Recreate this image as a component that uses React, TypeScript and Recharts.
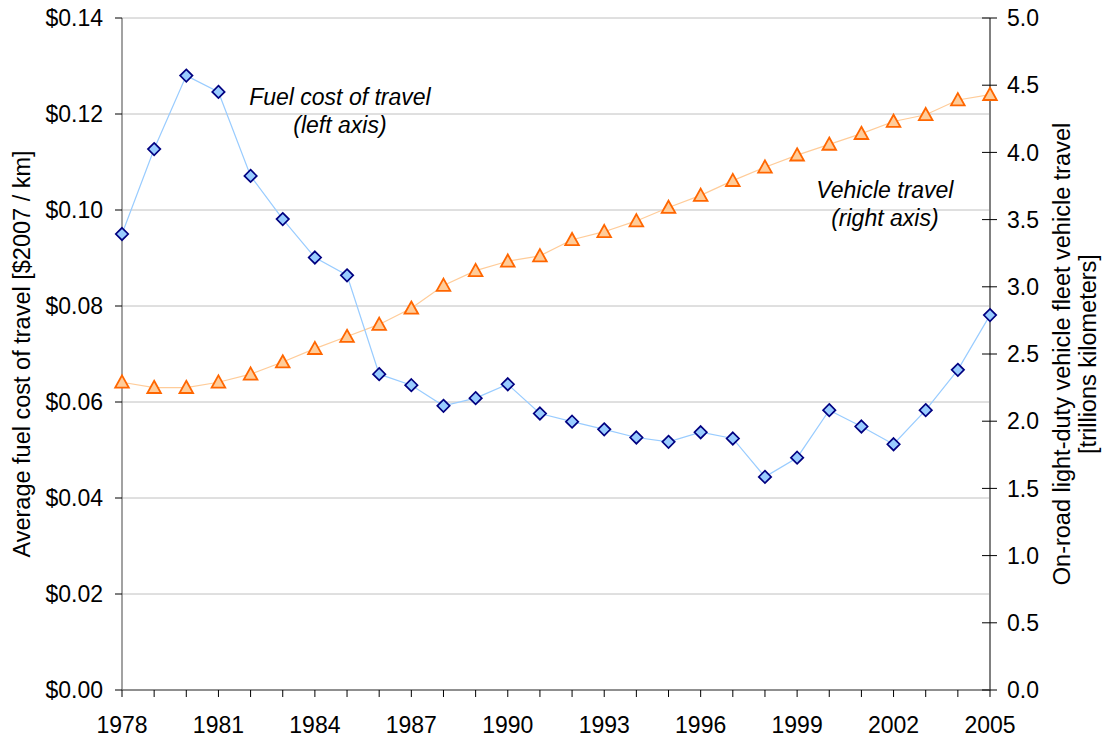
import React from 'react'
import {
  LineChart,
  Line,
  XAxis,
  YAxis,
  CartesianGrid,
  ReferenceDot,
  Label,
} from 'recharts'

const years = [
  1978, 1979, 1980, 1981, 1982, 1983, 1984, 1985, 1986, 1987, 1988, 1989, 1990, 1991,
  1992, 1993, 1994, 1995, 1996, 1997, 1998, 1999, 2000, 2001, 2002, 2003, 2004, 2005,
]
const labeledYears = [1978, 1981, 1984, 1987, 1990, 1993, 1996, 1999, 2002, 2005]

// $2007 per km (left axis)
const fuelCost = [
  0.095, 0.1127, 0.128, 0.1246, 0.1071, 0.0981, 0.0901, 0.0864, 0.0658, 0.0635, 0.0592,
  0.0608, 0.0637, 0.0576, 0.0559, 0.0543, 0.0526, 0.0517, 0.0537, 0.0524, 0.0444, 0.0484,
  0.0583, 0.0549, 0.0512, 0.0583, 0.0667, 0.0781,
]
// trillions km (right axis)
const vehicleTravel = [
  2.29, 2.25, 2.25, 2.29, 2.35, 2.44, 2.54, 2.63, 2.72, 2.84, 3.01, 3.12, 3.19, 3.23,
  3.35, 3.41, 3.49, 3.59, 3.68, 3.79, 3.89, 3.98, 4.06, 4.14, 4.23, 4.28, 4.39, 4.43,
]

const leftTicks = [0, 0.02, 0.04, 0.06, 0.08, 0.1, 0.12, 0.14]
const rightTicks = [0, 0.5, 1, 1.5, 2, 2.5, 3, 3.5, 4, 4.5, 5]

const leftTitle = 'Average fuel cost of travel [$2007 / km]'
const rightTitle = ['On-road light-duty vehicle fleet vehicle travel', '[trillions kilometers]']
const fuelNote = ['Fuel cost of travel', '(left axis)']
const travelNote = ['Vehicle travel', '(right axis)']

const data = years.map((year, i) => ({ year, cost: fuelCost[i], travel: vehicleTravel[i] }))

const FONT = '"Liberation Sans", Arial, Helvetica, sans-serif'
const FS = 23

function Diamond({ cx, cy }: any) {
  if (cx == null || cy == null) return null
  const r = 6.2
  return (
    <path
      d={`M${cx},${cy - r}L${cx + r},${cy}L${cx},${cy + r}L${cx - r},${cy}Z`}
      fill="#99ccff"
      stroke="#000080"
      strokeWidth={1.7}
    />
  )
}

function Triangle({ cx, cy }: any) {
  if (cx == null || cy == null) return null
  return (
    <path
      d={`M${cx},${cy - 6.8}L${cx + 6.8},${cy + 5.4}L${cx - 6.8},${cy + 5.4}Z`}
      fill="#ffcc99"
      stroke="#ff6600"
      strokeWidth={1.8}
      strokeLinejoin="miter"
    />
  )
}

function YearTick({ x, y, payload }: any) {
  if (!labeledYears.includes(payload.value)) return null
  return (
    <text x={x} y={y} dy="0.71em" textAnchor="middle" fontSize={FS} fontFamily={FONT} fill="#000">
      {payload.value}
    </text>
  )
}

function RightTick({ x, y, payload }: any) {
  return (
    <g>
      <line x1={x - 25} x2={x - 10} y1={y} y2={y} stroke="#000" strokeWidth={1} />
      <text x={x} y={y} dy="0.355em" textAnchor="start" fontSize={FS} fontFamily={FONT} fill="#000">
        {payload.value.toFixed(1)}
      </text>
    </g>
  )
}

function LeftTitle({ viewBox }: any) {
  const cx = viewBox.x + 22
  const cy = viewBox.y + viewBox.height / 2
  return (
    <text
      x={cx}
      y={cy}
      transform={`rotate(-90, ${cx}, ${cy})`}
      textAnchor="middle"
      dominantBaseline="central"
      fontSize={FS + 0.5}
      fontFamily={FONT}
      fill="#000"
    >
      {leftTitle}
    </text>
  )
}

function RightTitle({ viewBox }: any) {
  const cy = viewBox.y + viewBox.height / 2
  return (
    <g>
      {rightTitle.map((line, i) => {
        const cx = viewBox.x + 72 + i * 26
        return (
          <text
            key={line}
            x={cx}
            y={cy}
            transform={`rotate(-90, ${cx}, ${cy})`}
            textAnchor="middle"
            dominantBaseline="central"
            fontSize={FS + 0.5}
            fontFamily={FONT}
            fill="#000"
          >
            {line}
          </text>
        )
      })}
    </g>
  )
}

function note(lines: string[]) {
  return ({ viewBox }: any) => {
    const x = viewBox.x + viewBox.width / 2
    const y = viewBox.y + viewBox.height / 2
    return (
      <g>
        {lines.map((line, i) => (
          <text
            key={line}
            x={x}
            y={y + i * 28}
            textAnchor="middle"
            fontSize={FS}
            fontStyle="italic"
            fontFamily={FONT}
            fill="#000"
          >
            {line}
          </text>
        ))}
      </g>
    )
  }
}

export default function App() {
  return (
    <div style={{ position: 'absolute', left: 0, top: 0, width: 1107, height: 739, background: '#fff' }}>
      <LineChart width={1107} height={739} data={data} margin={{ top: 18, right: 0, bottom: 0, left: 0 }}>
        <CartesianGrid yAxisId="left" vertical={false} stroke="#c0c0c0" strokeWidth={1} />
        <XAxis
          dataKey="year"
          type="number"
          domain={[1978, 2005]}
          ticks={years}
          interval={0}
          height={49}
          tickSize={7}
          tickMargin={20}
          tick={<YearTick />}
          tickLine={{ stroke: '#000' }}
          axisLine={{ stroke: '#404040' }}
        />
        <YAxis
          yAxisId="left"
          domain={[0, 0.14]}
          ticks={leftTicks}
          interval={0}
          width={122}
          tickSize={7}
          tickMargin={12}
          tickFormatter={(v: number) => `$${v.toFixed(2)}`}
          tick={{ fontSize: FS, fontFamily: FONT, fill: '#000' }}
          tickLine={{ stroke: '#000' }}
          axisLine={{ stroke: '#707070', strokeWidth: 1.3 }}
        >
          <Label content={<LeftTitle />} />
        </YAxis>
        <YAxis
          yAxisId="right"
          orientation="right"
          domain={[0, 5]}
          ticks={rightTicks}
          interval={0}
          width={117}
          tickSize={7}
          tickMargin={10}
          tick={<RightTick />}
          tickLine={false}
          axisLine={{ stroke: '#808080', strokeWidth: 2 }}
        >
          <Label content={<RightTitle />} />
        </YAxis>
        <Line
          yAxisId="right"
          dataKey="travel"
          stroke="#ffcc99"
          strokeWidth={1.2}
          dot={<Triangle />}
          activeDot={false}
          isAnimationActive={false}
        />
        <Line
          yAxisId="left"
          dataKey="cost"
          stroke="#99ccff"
          strokeWidth={1.2}
          dot={<Diamond />}
          activeDot={false}
          isAnimationActive={false}
        />
        <ReferenceDot
          yAxisId="left"
          x={1984.78}
          y={0.1219}
          r={0}
          fill="none"
          stroke="none"
          label={{ content: note(fuelNote) }}
        />
        <ReferenceDot
          yAxisId="left"
          x={2001.73}
          y={0.1025}
          r={0}
          fill="none"
          stroke="none"
          label={{ content: note(travelNote) }}
        />
      </LineChart>
    </div>
  )
}
